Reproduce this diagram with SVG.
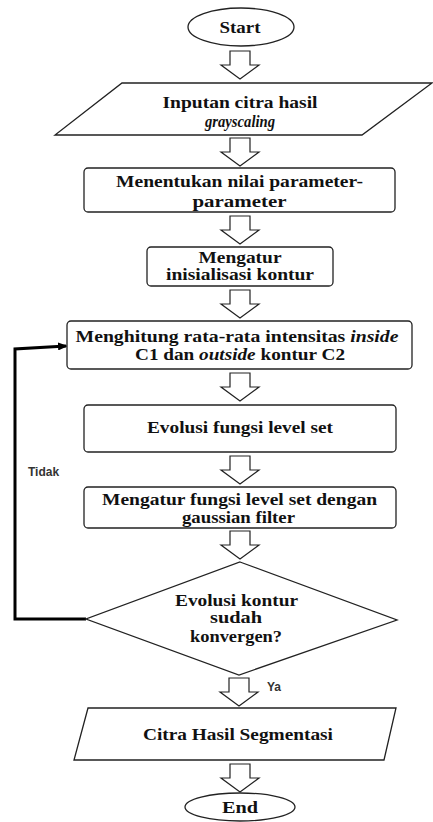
<svg xmlns="http://www.w3.org/2000/svg" width="433" height="822" viewBox="0 0 433 822">
<defs>
<style>
.s{fill:#fff;stroke:#222;stroke-width:1.3}
.t{font-family:"Liberation Serif","Times New Roman",serif;font-weight:bold;font-size:16px;fill:#111;text-anchor:middle}
.i{font-style:italic}
.l{font-family:"Liberation Sans",Arial,sans-serif;font-weight:bold;font-size:12px;fill:#333}
.ba{fill:#fff;stroke:#222;stroke-width:1.2}
.fb{fill:none;stroke:#000;stroke-width:3}
</style>
<path id="ba" d="M-10,0 h20 v14 h9 l-19,14 l-19,-14 h9 z"/>
<marker id="ah" markerWidth="10" markerHeight="8" refX="8" refY="4" orient="auto" markerUnits="userSpaceOnUse">
<path d="M0,0 L10,4 L0,8 z" fill="#000"/>
</marker>
</defs>
<rect width="433" height="822" fill="#fff"/>

<g id="connectors">
<use href="#ba" class="ba" x="240" y="51"/>
<use href="#ba" class="ba" x="240" y="138"/>
<use href="#ba" class="ba" x="240" y="216"/>
<use href="#ba" class="ba" x="240" y="290"/>
<use href="#ba" class="ba" x="240" y="373"/>
<use href="#ba" class="ba" x="240" y="456"/>
<use href="#ba" class="ba" x="240" y="531"/>
<use href="#ba" class="ba" x="239" y="678"/>
<use href="#ba" class="ba" x="240" y="764"/>
<polyline class="fb" points="86,619 15,619 15,349 66,346" marker-end="url(#ah)"/>
<text class="l" x="28" y="476">Tidak</text>
<text class="l" x="267" y="691">Ya</text>
</g>

<g id="start">
<ellipse class="s" cx="241" cy="27" rx="53" ry="19"/>
<text class="t" x="240" y="33" textLength="41" lengthAdjust="spacingAndGlyphs">Start</text>
</g>

<g id="input">
<polygon class="s" points="122,83 432,83 362,135 55,135"/>
<text class="t" x="240" y="108" textLength="155" lengthAdjust="spacingAndGlyphs">Inputan citra hasil</text>
<text class="t i" x="240" y="127" textLength="70" lengthAdjust="spacingAndGlyphs">grayscaling</text>
</g>

<g id="param">
<rect class="s" x="84" y="168" width="311" height="44" rx="4"/>
<text class="t" x="239.5" y="187" textLength="247" lengthAdjust="spacingAndGlyphs">Menentukan nilai parameter-</text>
<text class="t" x="239.5" y="207" textLength="94" lengthAdjust="spacingAndGlyphs">parameter</text>
</g>

<g id="init">
<rect class="s" x="147" y="247" width="186" height="39" rx="4"/>
<text class="t" x="240" y="263" textLength="83" lengthAdjust="spacingAndGlyphs">Mengatur</text>
<text class="t" x="240" y="280" textLength="148" lengthAdjust="spacingAndGlyphs">inisialisasi kontur</text>
</g>

<g id="hitung">
<rect class="s" x="67" y="321" width="345" height="48" rx="4"/>
<text class="t" x="237" y="342" textLength="323" lengthAdjust="spacingAndGlyphs">Menghitung rata-rata intensitas <tspan class="i">inside</tspan></text>
<text class="t" x="240" y="360" textLength="210" lengthAdjust="spacingAndGlyphs">C1 dan <tspan class="i">outside</tspan> kontur C2</text>
</g>

<g id="evolusi">
<rect class="s" x="84" y="405" width="312" height="47" rx="4"/>
<text class="t" x="240" y="433" textLength="186" lengthAdjust="spacingAndGlyphs">Evolusi fungsi level set</text>
</g>

<g id="gauss">
<rect class="s" x="84" y="487" width="312" height="41" rx="4"/>
<text class="t" x="239.5" y="505" textLength="275" lengthAdjust="spacingAndGlyphs">Mengatur fungsi level set dengan</text>
<text class="t" x="238.5" y="523" textLength="113" lengthAdjust="spacingAndGlyphs">gaussian filter</text>
</g>

<g id="decision">
<polygon class="s" points="240,562 397,620 239,675 86,619"/>
<text class="t" x="236.5" y="606" textLength="123" lengthAdjust="spacingAndGlyphs">Evolusi kontur</text>
<text class="t" x="236" y="623" textLength="52" lengthAdjust="spacingAndGlyphs">sudah</text>
<text class="t" x="236" y="642" textLength="92" lengthAdjust="spacingAndGlyphs">konvergen?</text>
</g>

<g id="output">
<polygon class="s" points="88,708 396,708 384,760 74,760"/>
<text class="t" x="238" y="740" textLength="190" lengthAdjust="spacingAndGlyphs">Citra Hasil Segmentasi</text>
</g>

<g id="end">
<ellipse class="s" cx="240" cy="807" rx="55" ry="14"/>
<text class="t" x="240" y="813" textLength="36" lengthAdjust="spacingAndGlyphs">End</text>
</g>
</svg>
